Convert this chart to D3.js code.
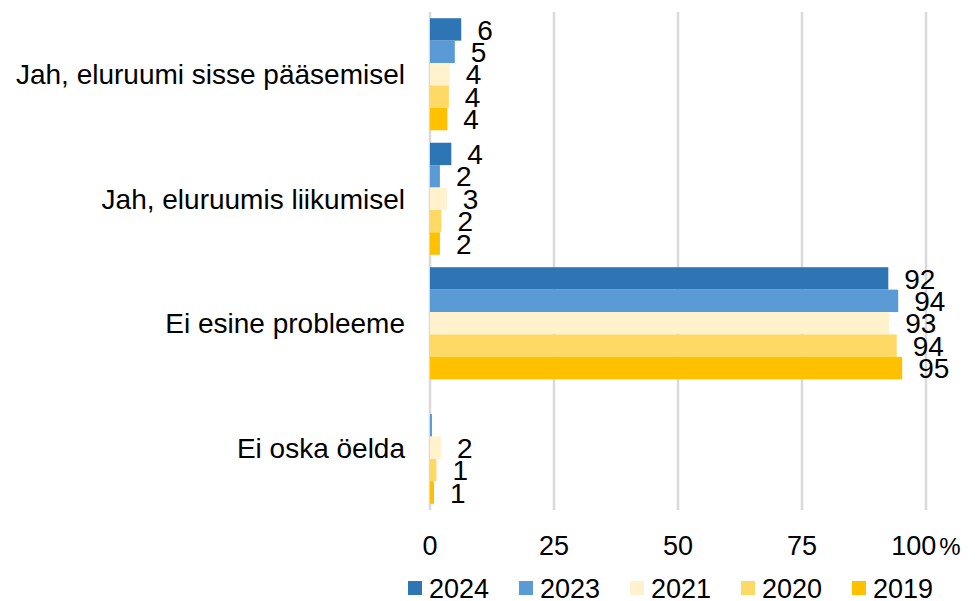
<!DOCTYPE html>
<html>
<head>
<meta charset="utf-8">
<script src="https://cdn.jsdelivr.net/npm/d3@7"></script>
<style>
  body { margin: 0; background: #fff; }
  svg { font-family: "Liberation Sans", Arial, sans-serif; }
</style>
</head>
<body>
<svg></svg>
<script>
var categories = ["Jah, eluruumi sisse pääsemisel", "Jah, eluruumis liikumisel", "Ei esine probleeme", "Ei oska öelda"];
var years = ["2024", "2023", "2021", "2020", "2019"];
var colors = ["#2E75B6", "#5B9BD5", "#FFF2CC", "#FFD966", "#FFC000"];
var v2024 = [6.3, 4.3, 92.4, 0];
var v2023 = [5.0, 2.0, 94.4, 0.4];
var v2021 = [4.0, 3.4, 92.6, 2.2];
var v2020 = [3.8, 2.3, 94.1, 1.3];
var v2019 = [3.5, 2.0, 95.2, 0.8];
var tickValues = [0, 25, 50, 75, 100];

var width = 978;
var height = 601;

var svg = d3.select("svg")
  .attr("width", width)
  .attr("height", height);

var series = [v2024, v2023, v2021, v2020, v2019];
var rows = [];
categories.forEach(function(c, i) {
  years.forEach(function(y, j) {
    rows.push({ cat: c, year: y, color: colors[j], value: series[j][i] });
  });
});

var x = d3.scaleLinear().domain([0, 100]).range([430, 926]);
var y0 = d3.scaleBand().domain(categories).range([12, 510])
  .paddingInner(0.1).paddingOuter(0.05);
var y1 = d3.scaleBand().domain(years).range([0, y0.bandwidth()]);

// gridlines
svg.append("g").selectAll("line")
  .data(tickValues)
  .enter()
  .append("line")
  .attr("x1", function(d) { return x(d); })
  .attr("x2", function(d) { return x(d); })
  .attr("y1", 12)
  .attr("y2", 510)
  .attr("stroke", "#d9d9d9")
  .attr("stroke-width", 2.5);

// bars
svg.append("g").selectAll("rect")
  .data(rows)
  .enter()
  .append("rect")
  .attr("x", x(0))
  .attr("y", function(d) { return y0(d.cat) + y1(d.year); })
  .attr("width", function(d) { return x(d.value) - x(0); })
  .attr("height", y1.bandwidth())
  .attr("fill", function(d) { return d.color; });

// value labels (values under 0.5 are not labelled in the original)
svg.append("g").selectAll("text")
  .data(rows.filter(function(d) { return d.value >= 0.5; }))
  .enter()
  .append("text")
  .attr("x", function(d) { return x(d.value) + 16; })
  .attr("y", function(d) { return y0(d.cat) + y1(d.year) + y1.bandwidth() / 2; })
  .attr("dy", "0.36em")
  .attr("font-size", 28)
  .attr("fill", "#000")
  .text(function(d) { return Math.round(d.value); });

// category labels
svg.append("g").selectAll("text")
  .data(categories)
  .enter()
  .append("text")
  .attr("x", 405)
  .attr("y", function(d) { return y0(d) + y0.bandwidth() / 2; })
  .attr("dy", "0.36em")
  .attr("text-anchor", "end")
  .attr("font-size", 28)
  .attr("fill", "#000")
  .text(function(d) { return d; });

// x axis tick labels
var ticks = svg.append("g").selectAll("text")
  .data(tickValues)
  .enter()
  .append("text")
  .attr("x", function(d) { return x(d); })
  .attr("y", 545)
  .attr("dy", "0.36em")
  .attr("text-anchor", "middle")
  .attr("font-size", 27)
  .attr("fill", "#000")
  .text(function(d) { return d; });
ticks.filter(function(d) { return d === 100; })
  .append("tspan")
  .attr("font-size", 24)
  .attr("dx", 3)
  .text("%");

// legend
var legend = svg.append("g").selectAll("g")
  .data(years)
  .enter()
  .append("g")
  .attr("transform", function(d, i) { return "translate(" + (408 + i * 111) + ",588)"; });
legend.append("rect")
  .attr("x", 0)
  .attr("y", -7)
  .attr("width", 14)
  .attr("height", 14)
  .attr("fill", function(d, i) { return colors[i]; });
legend.append("text")
  .attr("x", 21)
  .attr("y", 0)
  .attr("dy", "0.36em")
  .attr("font-size", 27)
  .attr("fill", "#000")
  .text(function(d) { return d; });
</script>
</body>
</html>
